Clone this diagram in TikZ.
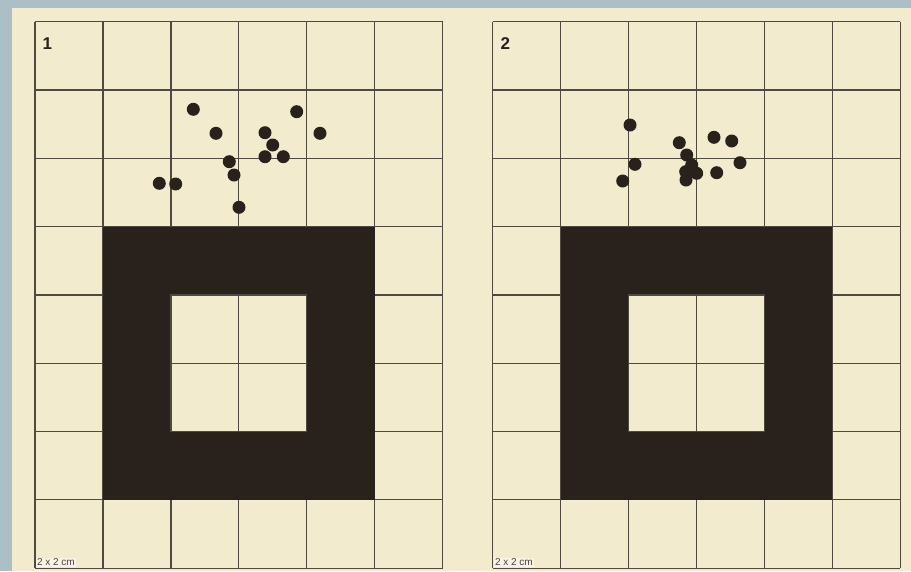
\documentclass[tikz,border=0pt]{standalone}
\usepackage{fontspec}
\setmainfont{Liberation Sans}
\definecolor{bgblue}{RGB}{172,190,198}
\definecolor{cream}{RGB}{242,235,205}
\definecolor{gridc}{RGB}{78,74,64}
\definecolor{inkc}{RGB}{40,33,28}
\tikzset{
  gridline/.style={draw=gridc, line width=1.2pt},
  shot/.style={circle, fill=inkc, inner sep=0pt, minimum size=13pt},
  numlabel/.style={font=\bfseries\fontsize{17}{17}\selectfont, text=inkc, anchor=west},
  scalelabel/.style={font=\fontsize{10}{10}\selectfont, text=inkc!85, fill=cream!50!white, inner sep=0.8pt, anchor=south west}
}
\begin{document}
\begin{tikzpicture}[x=1pt,y=-1pt]
\useasboundingbox (0,0) rectangle (911,571);
\fill[bgblue] (0,0) rectangle (911,571);
\fill[cream] (12,8) rectangle (911,571);
% ---------- panels ----------
\foreach \ox/\cw in {35/67.95, 492.7/67.9}{
\begin{scope}[shift={(\ox,21.7)}]
  \foreach \c in {0,...,6} \draw[gridline] (\c*\cw,0) -- (\c*\cw,546.4);
  \foreach \r in {0,...,8} \draw[gridline] (0,\r*68.3) -- (6*\cw,\r*68.3);
  \fill[inkc] (\cw,204.9) rectangle (5*\cw,478.1);
  \fill[cream] (2*\cw,273.2) rectangle (4*\cw,409.8);
  \draw[gridline] (3*\cw,273.2) -- (3*\cw,409.8);
  \draw[gridline] (2*\cw,341.5) -- (4*\cw,341.5);
  \draw[gridline] (2*\cw,273.2) rectangle (4*\cw,409.8);
\end{scope}
}
\node[numlabel] (n1) at (39,44) {1};
\node[scalelabel] (s1) at (36,567) {2 x 2 cm};
\foreach \i/\p in {1/{193.3,109.3},2/{296.7,111.7},3/{216,133.3},4/{265,132.7},5/{320,133.3},6/{272.7,145},7/{265,156.7},8/{283.3,156.7},9/{229.3,161.7},10/{234,175},11/{159.3,183.3},12/{175.7,184},13/{239,207.3}}
  \node[shot] (a\i) at (\p) {};
\node[numlabel] (n2) at (497,44) {2};
\node[scalelabel] (s2) at (494,567) {2 x 2 cm};
\foreach \i/\p in {1/{630,125},2/{679.3,142.7},3/{714,137.3},4/{731.7,141},5/{635,164.3},6/{686.7,155},7/{691.7,165},8/{685.7,171.7},9/{696.7,173.3},10/{686,180},11/{740,162.7},12/{716.7,172.7},13/{622.7,181}}
  \node[shot] (b\i) at (\p) {};
\end{tikzpicture}
\end{document}
